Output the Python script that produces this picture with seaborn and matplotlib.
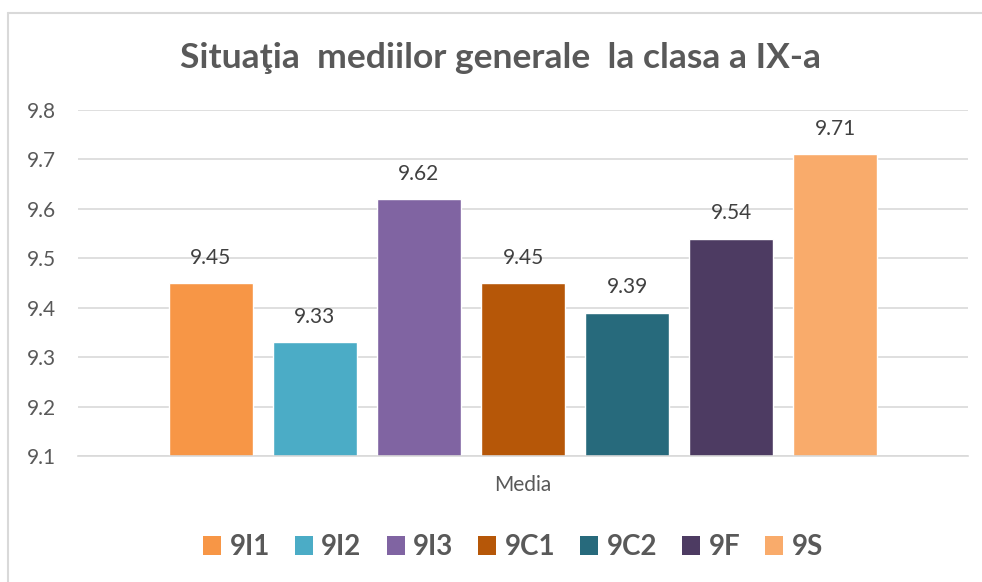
import matplotlib
matplotlib.use("Agg")
import matplotlib.pyplot as plt
from matplotlib.lines import Line2D
from matplotlib.patches import Patch
import seaborn as sns
import pandas as pd

classes = ["9I1", "9I2", "9I3", "9C1", "9C2", "9F", "9S"]
values = [9.45, 9.33, 9.62, 9.45, 9.39, 9.54, 9.71]
colors = ["#F79646", "#4BACC6", "#8064A2", "#B65708", "#276A7C", "#4D3B62", "#F9AB6B"]
category = ["Media"] * len(classes)
yticks = [9.1, 9.2, 9.3, 9.4, 9.5, 9.6, 9.7, 9.8]

df = pd.DataFrame({"cat": category, "clasa": classes, "media": values})

sns.set_theme(style="white")
plt.rcParams["font.family"] = ["Lato", "DejaVu Sans"]

W, H = 982, 582
fig = plt.figure(figsize=(W / 100, H / 100), dpi=100)
ax = fig.add_axes([78 / W, 1 - 456 / H, (968 - 78) / W, (456 - 110) / H])

sns.barplot(data=df, x="cat", y="media", hue="clasa", hue_order=classes,
            palette=colors, width=0.818, gap=0.2, ax=ax, legend=False,
            saturation=1, errorbar=None)

ax.set_ylim(9.1, 9.8)
ax.set_xlim(-0.5, 0.5)
ax.set_yticks(yticks)
ax.set_yticklabels([f"{t:.1f}" for t in yticks], color="#595959", fontsize=15)
ax.yaxis.grid(True, color="#D9D9D9", linewidth=1.2)
ax.set_axisbelow(True)
for s in ["top", "right", "left"]:
    ax.spines[s].set_visible(False)
ax.spines["bottom"].set_color("#D9D9D9")
ax.spines["bottom"].set_linewidth(1.2)
ax.tick_params(axis="y", length=0, pad=16)
ax.tick_params(axis="x", length=0, pad=14)
ax.set_xticklabels(["Media"], color="#595959", fontsize=15)
ax.set_xlabel("")
ax.set_ylabel("")

for cont in ax.containers:
    ax.bar_label(cont, fmt="%.2f", padding=11, color="#404040", fontsize=15)

fig.text(500 / W, 1 - 58 / H, "Situaţia  mediilor generale  la clasa a IX-a",
         ha="center", va="center", fontsize=25.5, fontweight="bold", color="#595959")

handles = [Patch(facecolor=c, edgecolor="none") for c in colors]
fig.legend(handles, classes, loc="center", bbox_to_anchor=(513 / W, 1 - 547 / H),
           ncol=7, frameon=False, prop={"weight": "bold", "size": 20},
           labelcolor="#595959", handlelength=0.65, handleheight=0.65,
           handletextpad=0.3, columnspacing=0.9)

# chart border (left and top edges visible)
fig.add_artist(Line2D([7.5 / W, 7.5 / W], [0, 1 - 12.5 / H], transform=fig.transFigure,
                      color="#D9D9D9", linewidth=1.5))
fig.add_artist(Line2D([7.5 / W, 1], [1 - 12.5 / H, 1 - 12.5 / H], transform=fig.transFigure,
                      color="#D9D9D9", linewidth=1.5))

fig.savefig("out.png", dpi=100)
